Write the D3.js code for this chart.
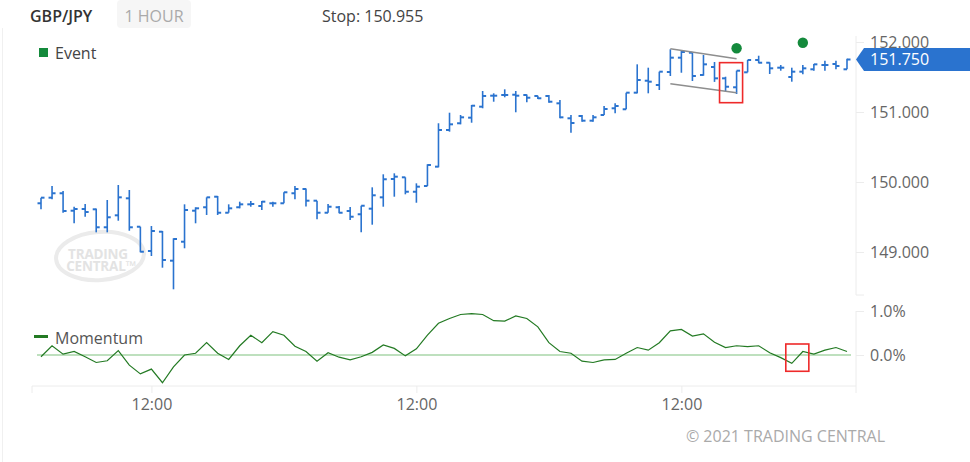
<!DOCTYPE html>
<html><head><meta charset="utf-8">
<script src="https://cdn.jsdelivr.net/npm/d3@7"></script>
<style>
body{margin:0;background:#fff;}
svg{display:block;font-family:"Open Sans",sans-serif;}
</style>
</head><body>
<svg id="chart" width="970" height="462"></svg>
<script>
// ---------- DATA ----------
const times = [
"03 02:00","03 03:00","03 04:00","03 05:00","03 06:00","03 07:00","03 08:00","03 09:00","03 10:00","03 11:00",
"03 12:00","03 13:00","03 14:00","03 15:00","03 16:00","03 17:00","03 18:00","03 19:00","03 20:00","03 21:00",
"03 22:00","03 23:00","04 00:00","04 01:00","04 02:00","04 03:00","04 04:00","04 05:00","04 06:00","04 07:00",
"04 08:00","04 09:00","04 10:00","04 11:00","04 12:00","04 13:00","04 14:00","04 15:00","04 16:00","04 17:00",
"04 18:00","04 19:00","04 20:00","04 21:00","04 22:00","04 23:00","05 00:00","05 01:00","05 02:00","05 03:00",
"05 04:00","05 05:00","05 06:00","05 07:00","05 08:00","05 09:00","05 10:00","05 11:00","05 12:00","05 13:00",
"05 14:00","05 15:00","05 16:00","05 17:00","05 18:00","05 19:00","05 20:00","05 21:00","05 22:00","05 23:00",
"06 00:00","06 01:00","06 02:00","06 03:00"];

const open = [149.696,149.776,149.839,149.590,149.614,149.610,149.353,149.524,149.767,149.361,
149.014,149.290,148.876,149.147,149.590,149.639,149.790,149.561,149.639,149.681,
149.657,149.696,149.696,149.839,149.900,149.733,149.561,149.639,149.586,149.539,
149.619,149.781,150.043,150.067,149.861,149.943,150.219,150.743,150.839,150.919,
151.076,151.233,151.243,151.247,151.243,151.229,151.229,151.124,150.910,150.943,
150.876,150.957,151.053,151.039,151.276,151.447,151.386,151.571,151.776,151.847,
151.529,151.643,151.481,151.353,151.567,151.743,151.704,151.633,151.500,151.576,
151.610,151.671,151.686,151.610];

const high = [149.776,149.943,149.871,149.647,149.686,149.620,149.743,149.957,149.886,149.361,
149.371,149.300,149.196,149.681,149.639,149.781,149.800,149.681,149.719,149.729,
149.729,149.719,149.853,149.943,149.907,149.733,149.686,149.657,149.643,149.661,
149.924,150.110,150.124,150.067,149.981,150.253,150.839,150.990,150.957,151.100,
151.300,151.267,151.324,151.300,151.250,151.233,151.243,151.171,150.957,150.957,
150.957,151.086,151.124,151.276,151.681,151.633,151.576,151.896,151.871,151.850,
151.814,151.714,151.504,151.590,151.743,151.804,151.710,151.671,151.633,151.671,
151.686,151.733,151.733,151.760];

const low = [149.610,149.753,149.561,149.410,149.504,149.281,149.281,149.447,149.304,148.996,
148.943,148.776,148.467,149.053,149.410,149.529,149.529,149.561,149.624,149.647,
149.600,149.647,149.696,149.753,149.650,149.467,149.561,149.553,149.457,149.281,
149.390,149.647,149.790,149.824,149.704,149.943,150.210,150.719,150.824,150.847,
151.053,151.147,151.210,150.996,151.139,151.186,151.133,150.910,150.704,150.861,
150.861,150.957,150.981,151.039,151.267,151.267,151.314,151.514,151.561,151.443,
151.519,151.430,151.290,151.257,151.567,151.696,151.543,151.590,151.433,151.539,
151.590,151.590,151.610,151.610];

const close = [149.776,149.839,149.586,149.614,149.571,149.353,149.496,149.781,149.353,149.004,
149.300,148.886,149.186,149.600,149.624,149.781,149.561,149.624,149.681,149.686,
149.719,149.696,149.853,149.900,149.733,149.561,149.647,149.561,149.504,149.661,
149.810,150.039,150.076,149.861,149.933,150.243,150.743,150.824,150.924,151.090,
151.229,151.233,151.243,151.233,151.204,151.196,151.147,150.924,150.843,150.876,
150.924,151.043,151.086,151.276,151.457,151.433,151.576,151.776,151.857,151.514,
151.681,151.481,151.361,151.590,151.743,151.704,151.624,151.633,151.576,151.624,
151.681,151.671,151.657,151.750];

const momentum = [-0.04,0.21,0.02,0.08,-0.04,-0.17,-0.13,0.10,-0.23,-0.43,
-0.32,-0.63,-0.27,0.00,0.04,0.28,0.04,-0.10,0.21,0.45,
0.28,0.53,0.45,0.20,0.08,-0.14,0.05,-0.05,-0.11,-0.04,
0.06,0.23,0.15,-0.02,0.14,0.45,0.72,0.83,0.92,0.94,
0.92,0.78,0.77,0.89,0.83,0.64,0.28,0.08,0.04,-0.14,
-0.17,-0.11,-0.10,0.04,0.17,0.11,0.28,0.55,0.58,0.43,
0.48,0.29,0.17,0.21,0.19,0.21,0.05,-0.06,-0.19,0.08,
0.02,0.11,0.17,0.08];

const xTickValues = ["03 12:00","04 12:00","05 12:00"];
const xTickLabels = ["12:00","12:00","12:00"];
const priceTicks = [149,150,151,152];
const momentumTicks = [0,1];

const symbol = "GBP/JPY";
const period = "1 HOUR";
const stopText = "Stop: 150.955";
const lastPrice = 151.750;

const eventTimes = ["05 17:00","05 23:00"];
const eventPrices = [151.91, 151.99];

const flagUpperTimes = ["05 11:00","05 17:00"];
const flagUpperPrices = [151.904, 151.761];
const flagLowerTimes = ["05 11:00","05 17:00"];
const flagLowerPrices = [151.404, 151.276];

const priceBoxTimes = ["05 16:00","05 17:00"];
const priceBoxPrices = [151.705, 151.133];
const momBoxTimes = ["05 22:00","05 23:00"];
const momBoxValues = [0.25, -0.37];

// ---------- LAYOUT ----------
const svg = d3.select("#chart");
const axisX = 856;
const blue = "#2a73cf";

const x = d3.scalePoint().domain(times).range([41, 847]);
const yP = d3.scaleLinear().domain([149, 152]).range([252, 42]);
const yM = d3.scaleLinear().domain([0, 1]).range([355, 311]);

// faint container border
svg.append("line").attr("x1",2.5).attr("x2",2.5).attr("y1",28).attr("y2",462)
  .attr("stroke","#f0f0f0").attr("stroke-width",1);

// header
svg.append("rect").attr("x",117).attr("y",0).attr("width",74).attr("height",28)
  .attr("rx",4).attr("fill","#f6f6f6");
svg.append("text").attr("x",30).attr("y",22).attr("font-size",16).attr("font-weight",600)
  .attr("fill","#333").text(symbol);
svg.append("text").attr("x",154).attr("y",22).attr("font-size",16).attr("text-anchor","middle")
  .attr("fill","#aaa").text(period);
svg.append("text").attr("x",322).attr("y",22).attr("font-size",16)
  .attr("fill","#444").text(stopText);

// legend Event
svg.append("rect").attr("x",39).attr("y",48).attr("width",9).attr("height",9).attr("fill","#148a3c");
svg.append("text").attr("x",55).attr("y",59).attr("font-size",16).attr("fill","#444").text("Event");

// watermark
const wm = svg.append("g");
wm.append("ellipse").attr("cx",100).attr("cy",256).attr("rx",44).attr("ry",24)
  .attr("fill","none").attr("stroke","#ebebeb").attr("stroke-width",4)
  .attr("transform","rotate(-4 100 256)");
const wt = wm.append("text").attr("text-anchor","middle")
  .attr("font-size",13.5).attr("font-weight",700).attr("fill","#e3e3e3").attr("letter-spacing",-0.2);
wt.append("tspan").attr("x",98).attr("y",259).text("TRADING");
wt.append("tspan").attr("x",101).attr("y",270.5).text("CENTRAL\u2122");

// price axis
svg.append("line").attr("x1",axisX).attr("x2",axisX).attr("y1",36).attr("y2",295)
  .attr("stroke","#ececec");
const pa = svg.append("g").attr("transform",`translate(${axisX},0)`)
  .call(d3.axisRight(yP).tickValues(priceTicks).tickFormat(d3.format(".3f")).tickSize(8).tickPadding(6));
pa.select(".domain").remove();
pa.selectAll(".tick line").attr("stroke","#ececec");
pa.selectAll(".tick text").attr("fill","#666").attr("font-size",16).attr("font-family","Open Sans");
svg.append("line").attr("x1",axisX).attr("x2",axisX+8).attr("y1",295).attr("y2",295).attr("stroke","#ececec");

// momentum axis
svg.append("line").attr("x1",axisX).attr("x2",axisX).attr("y1",311).attr("y2",393)
  .attr("stroke","#ececec");
const ma = svg.append("g").attr("transform",`translate(${axisX},0)`)
  .call(d3.axisRight(yM).tickValues(momentumTicks).tickFormat(d => d.toFixed(1)+"%").tickSize(8).tickPadding(6));
ma.select(".domain").remove();
ma.selectAll(".tick line").attr("stroke","#ececec");
ma.selectAll(".tick text").attr("fill","#666").attr("font-size",16).attr("font-family","Open Sans");

// x axis
svg.append("line").attr("x1",32).attr("x2",axisX).attr("y1",386).attr("y2",386).attr("stroke","#ececec");
svg.append("line").attr("x1",32).attr("x2",32).attr("y1",386).attr("y2",393).attr("stroke","#ececec");
const xa = svg.append("g").attr("transform","translate(0,386)")
  .call(d3.axisBottom(x).tickValues(xTickValues).tickFormat((d,i) => xTickLabels[i]).tickSize(7).tickPadding(6));
xa.select(".domain").remove();
xa.selectAll(".tick line").attr("stroke","#ececec");
xa.selectAll(".tick text").attr("fill","#666").attr("font-size",16).attr("font-family","Open Sans");

// OHLC bars
const bars = svg.append("g").attr("stroke",blue).attr("fill","none");
times.forEach((t,i) => {
  const cx = x(t);
  bars.append("line").attr("x1",cx).attr("x2",cx).attr("y1",yP(high[i])).attr("y2",yP(low[i])).attr("stroke-width",1.6);
  bars.append("line").attr("x1",cx-3.5).attr("x2",cx).attr("y1",yP(open[i])).attr("y2",yP(open[i])).attr("stroke-width",2);
  bars.append("line").attr("x1",cx).attr("x2",cx+3.5).attr("y1",yP(close[i])).attr("y2",yP(close[i])).attr("stroke-width",2);
});

// flag lines
[[flagUpperTimes,flagUpperPrices],[flagLowerTimes,flagLowerPrices]].forEach(([ts,ps]) => {
  svg.append("line").attr("x1",x(ts[0])).attr("x2",x(ts[1])).attr("y1",yP(ps[0])).attr("y2",yP(ps[1]))
    .attr("stroke","#8e8e8e").attr("stroke-width",1.6);
});

// price red box
svg.append("rect")
  .attr("x",x(priceBoxTimes[0])-6).attr("y",yP(priceBoxPrices[0]))
  .attr("width",x(priceBoxTimes[1])-x(priceBoxTimes[0])+12)
  .attr("height",yP(priceBoxPrices[1])-yP(priceBoxPrices[0]))
  .attr("fill","none").attr("stroke","#ee2a2a").attr("stroke-width",1.6);

// events
eventTimes.forEach((t,i) => {
  svg.append("circle").attr("cx",x(t)).attr("cy",yP(eventPrices[i])).attr("r",5.2).attr("fill","#148a3c");
});

// last price label
const ly = yP(lastPrice);
svg.append("path").attr("d",`M${axisX},${ly} L${axisX+8},${ly-11.5} L970,${ly-11.5} L970,${ly+11.5} L${axisX+8},${ly+11.5} Z`)
  .attr("fill",blue);
svg.append("text").attr("x",870).attr("y",ly).attr("dy","0.36em").attr("font-size",16)
  .attr("fill","#fff").text(lastPrice.toFixed(3));

// momentum
svg.append("line").attr("x1",37).attr("x2",851).attr("y1",yM(0)).attr("y2",yM(0))
  .attr("stroke","#a9d6a9").attr("stroke-width",1.5);
svg.append("path").datum(momentum)
  .attr("d", d3.line().x((d,i) => x(times[i])).y(d => yM(d)))
  .attr("fill","none").attr("stroke","#237a23").attr("stroke-width",1.2);
svg.append("rect")
  .attr("x",x(momBoxTimes[0])-6).attr("y",yM(momBoxValues[0]))
  .attr("width",x(momBoxTimes[1])-x(momBoxTimes[0])+12)
  .attr("height",yM(momBoxValues[1])-yM(momBoxValues[0]))
  .attr("fill","none").attr("stroke","#ee2a2a").attr("stroke-width",1.6);

// momentum legend
svg.append("line").attr("x1",34).attr("x2",48).attr("y1",336.5).attr("y2",336.5)
  .attr("stroke","#237a23").attr("stroke-width",3);
svg.append("text").attr("x",55).attr("y",344).attr("font-size",16).attr("fill","#555").text("Momentum");

// copyright
svg.append("text").attr("x",885).attr("y",442).attr("text-anchor","end").attr("font-size",16)
  .attr("fill","#aaa").text("\u00a9 2021 TRADING CENTRAL");
</script>
</body></html>
